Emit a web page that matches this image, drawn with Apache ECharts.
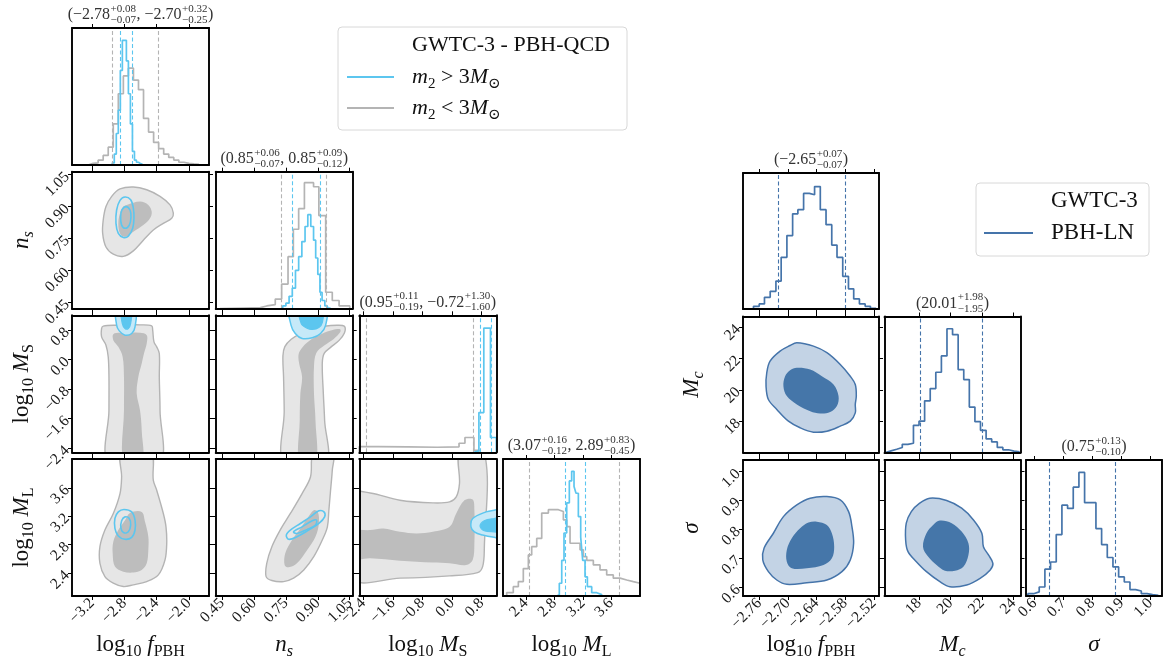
<!DOCTYPE html>
<html><head><meta charset="utf-8">
<script src="https://cdn.jsdelivr.net/npm/echarts@6/dist/echarts.min.js"></script>
<style>html,body{margin:0;padding:0;background:#fff}#c{width:1167px;height:665px}</style>
</head><body><div id="c"></div>
<script>
// ---------------- tick values ----------------
const ticksFpbhL = [-3.2, -2.8, -2.4, -2.0];
const ticksNs = [0.45, 0.60, 0.75, 0.90, 1.05];
const ticksMs = [-2.4, -1.6, -0.8, 0.0, 0.8];
const ticksMl = [2.4, 2.8, 3.2, 3.6];
const ticksFpbhR = [-2.76, -2.70, -2.64, -2.58, -2.52];
const ticksMc = [18, 20, 22, 24];
const ticksSigma = [0.6, 0.7, 0.8, 0.9, 1.0];

// ---------------- 1D histograms (bin edges + heights) ----------------
const fpbhGrayEdges = [-3.25,-3.1875,-3.125,-3.0625,-3.0,-2.9375,-2.875,-2.8125,-2.75,-2.6875,-2.625,-2.5625,-2.5,-2.4375,-2.375,-2.3125,-2.25,-2.1875,-2.125,-2.0625,-2.0,-1.9375,-1.875];
const fpbhGrayCounts = [0.012,0.015,0.035,0.07,0.13,0.3,0.52,0.65,0.707,0.62,0.55,0.34,0.24,0.165,0.12,0.08,0.055,0.036,0.02,0.012,0.008,0.005];
const fpbhCyanEdges = [-2.95,-2.925,-2.9,-2.875,-2.85,-2.825,-2.8,-2.775,-2.75,-2.725,-2.7,-2.675,-2.65,-2.625,-2.6,-2.575];
const fpbhCyanCounts = [0.015,0.08,0.23,0.4,0.69,0.91,0.91,0.76,0.52,0.3,0.1,0.035,0.02,0.01,0.005];
const nsGrayEdges = [0.44,0.55,0.63,0.66,0.70,0.73,0.76,0.785,0.81,0.837,0.88,0.905,0.937,0.968,1.0,1.05];
const nsGrayCounts = [0.005,0.008,0.02,0.03,0.07,0.18,0.38,0.58,0.73,0.92,0.89,0.68,0.12,0.06,0.02];
const nsCyanEdges = [0.735,0.75,0.765,0.78,0.795,0.81,0.825,0.84,0.853,0.867,0.88,0.89,0.90,0.91,0.92,0.933,0.945,0.96];
const nsCyanCounts = [0.02,0.04,0.09,0.15,0.28,0.38,0.49,0.6,0.686,0.6,0.5,0.37,0.25,0.12,0.06,0.02,0.005];
const msGrayEdges = [-2.51,-2.0,-1.2,-0.4,0.19,0.35,0.593,0.727];
const msGrayCounts = [0.042,0.04,0.037,0.04,0.066,0.108,0.015];
const msCyanEdges = [0.593,0.727,0.86,1.04,1.2];
const msCyanCounts = [0.01,0.29,0.907,0.108];
const mlGrayEdges = [2.129,2.222,2.293,2.363,2.434,2.481,2.552,2.622,2.716,2.857,2.927,2.974,3.021,3.162,3.209,3.256,3.349,3.443,3.537,3.63,3.725,3.819,3.912,4.006];
const mlGrayCounts = [0.024,0.068,0.105,0.2,0.3,0.36,0.42,0.605,0.63,0.617,0.556,0.507,0.385,0.337,0.288,0.26,0.227,0.19,0.154,0.13,0.117,0.105,0.093];
const mlCyanEdges = [2.833,2.87,2.904,2.936,2.974,3.011,3.044,3.077,3.105,3.138,3.171,3.199,3.232,3.265,3.326,3.397,3.467];
const mlCyanCounts = [0.01,0.093,0.26,0.46,0.68,0.84,0.91,0.8,0.75,0.58,0.43,0.26,0.14,0.068,0.024,0.01];

const fpbhLnEdges = [-2.772,-2.760,-2.749,-2.737,-2.725,-2.714,-2.702,-2.690,-2.679,-2.667,-2.655,-2.644,-2.632,-2.620,-2.608,-2.597,-2.585,-2.573,-2.562,-2.550,-2.538,-2.527,-2.515];
const fpbhLnCounts = [0.02,0.037,0.086,0.13,0.205,0.38,0.54,0.70,0.73,0.85,0.84,0.90,0.73,0.62,0.47,0.38,0.24,0.148,0.074,0.037,0.02,0.005];
const mcLnEdges = [15.874,16.228,16.582,16.937,17.291,17.645,17.999,18.353,18.708,19.062,19.416,19.770,20.124,20.479,20.833,21.187,21.541,21.895,22.250,22.604,22.958,23.312,23.666,24.021,24.375];
const mcLnCounts = [0.012,0.024,0.037,0.06,0.068,0.2,0.23,0.38,0.47,0.59,0.71,0.91,0.866,0.61,0.536,0.334,0.227,0.163,0.10,0.078,0.037,0.02,0.01,0.005];
const sigLnEdges = [0.5765,0.5961,0.6157,0.6353,0.6549,0.6745,0.6941,0.7137,0.7333,0.7529,0.7725,0.7921,0.8117,0.8313,0.8509,0.8705,0.8901,0.9097,0.9293,0.9489,0.9685,0.9881,1.0077,1.0273];
const sigLnCounts = [0.017,0.03,0.066,0.197,0.25,0.452,0.668,0.644,0.80,0.909,0.686,0.686,0.496,0.378,0.283,0.214,0.14,0.103,0.047,0.037,0.017,0.01,0.005];

// ---------------- quantile lines (16%, 84%) ----------------
const qFpbhGray = [-2.95, -2.38], qFpbhCyan = [-2.85, -2.70];
const qNsGray = [0.73, 0.94], qNsCyan = [0.78, 0.91];
const qMsGray = [-2.32, 0.58], qMsCyan = [0.76, 1.06];
const qMlGray = [2.44, 3.72], qMlCyan = [2.95, 3.23];
const qFpbhLn = [-2.72, -2.58], qMcLn = [18.06, 21.99], qSigLn = [0.65, 0.88];

// ---------------- 2D credible contours (data coordinates) ----------------
const nsF_grayOuter = [[-2.854,0.983],[-2.689,0.992],[-2.523,0.979],[-2.358,0.948],[-2.234,0.908],[-2.193,0.869],[-2.213,0.845],[-2.317,0.821],[-2.441,0.79],[-2.565,0.742],[-2.689,0.692],[-2.813,0.666],[-2.937,0.676],[-3.028,0.71],[-3.069,0.774],[-3.062,0.837],[-3.028,0.90],[-2.957,0.948]];
const nsF_grayInner = [[-2.771,0.908],[-2.606,0.924],[-2.503,0.908],[-2.461,0.876],[-2.482,0.845],[-2.565,0.813],[-2.689,0.782],[-2.792,0.758],[-2.854,0.774],[-2.875,0.821],[-2.854,0.869],[-2.813,0.90]];
const nsF_cyanOuter = [[-2.792,0.945],[-2.722,0.932],[-2.689,0.893],[-2.681,0.845],[-2.697,0.798],[-2.751,0.761],[-2.813,0.755],[-2.875,0.774],[-2.904,0.821],[-2.896,0.884],[-2.854,0.929]];
const nsF_cyanInner = [[-2.78,0.90],[-2.73,0.884],[-2.718,0.85],[-2.739,0.813],[-2.789,0.798],[-2.834,0.813],[-2.846,0.853],[-2.83,0.884]];

const msF_grayOuter = [[-3.062,0.905],[-3.082,0.842],[-3.082,0.615],[-3.028,0.39],[-3.0,0.073],[-2.991,-0.47],[-2.991,-1.372],[-2.991,-2.8],[-2.367,-2.8],[-2.358,-1.372],[-2.367,-0.47],[-2.367,0.165],[-2.399,0.344],[-2.433,0.479],[-2.449,0.796],[-2.461,0.913],[-2.606,0.94],[-2.896,0.93]];
const msF_grayInner = [[-2.854,0.723],[-2.937,0.688],[-2.937,0.525],[-2.875,0.344],[-2.821,0.073],[-2.805,-0.47],[-2.805,-1.372],[-2.805,-2.8],[-2.585,-2.8],[-2.585,-1.914],[-2.606,-1.372],[-2.647,-0.92],[-2.627,-0.47],[-2.585,-0.106],[-2.557,0.165],[-2.523,0.436],[-2.523,0.661],[-2.606,0.723]];
const msF_cyanOuter = [[-2.896,1.35],[-2.896,0.932],[-2.863,0.777],[-2.792,0.661],[-2.709,0.706],[-2.668,0.886],[-2.668,1.35]];
const msF_cyanInner = [[-2.834,1.35],[-2.826,0.978],[-2.792,0.842],[-2.751,0.842],[-2.722,0.978],[-2.718,1.35]];

const msN_grayOuter = [[0.742,-2.8],[0.742,-1.4],[0.739,-0.47],[0.736,0.1],[0.745,0.35],[0.775,0.55],[0.82,0.7],[0.87,0.82],[0.93,0.9],[0.99,0.93],[1.025,0.9],[1.025,0.72],[1.0,0.52],[0.96,0.33],[0.93,0.17],[0.921,-0.1],[0.926,-0.92],[0.932,-1.64],[0.937,-2.8]];
const msN_grayInner = [[0.815,-2.8],[0.815,-1.64],[0.818,-0.92],[0.826,-0.47],[0.812,-0.1],[0.81,0.15],[0.83,0.35],[0.87,0.55],[0.92,0.7],[0.97,0.8],[1.005,0.82],[1.005,0.74],[0.975,0.56],[0.93,0.38],[0.893,0.18],[0.882,-0.2],[0.882,-0.92],[0.889,-1.64],[0.889,-2.8]];
const msN_cyanOuter = [[0.771,1.35],[0.774,0.932],[0.794,0.706],[0.826,0.57],[0.874,0.59],[0.913,0.706],[0.937,0.932],[0.937,1.35]];
const msN_cyanInner = [[0.818,1.35],[0.822,0.978],[0.852,0.842],[0.874,0.815],[0.905,0.87],[0.921,1.0],[0.921,1.35]];

const mlF_grayOuter = [[-2.834,4.1],[-2.834,3.752],[-2.854,3.519],[-2.937,3.239],[-3.041,3.005],[-3.103,2.771],[-3.103,2.538],[-3.041,2.35],[-2.937,2.258],[-2.813,2.21],[-2.689,2.234],[-2.523,2.28],[-2.379,2.374],[-2.296,2.585],[-2.275,2.818],[-2.284,3.051],[-2.317,3.239],[-2.399,3.566],[-2.441,3.706],[-2.474,4.1]];
const mlF_grayInner = [[-2.73,3.247],[-2.585,3.261],[-2.544,3.121],[-2.503,2.911],[-2.503,2.725],[-2.523,2.538],[-2.585,2.444],[-2.689,2.407],[-2.813,2.42],[-2.917,2.491],[-2.945,2.678],[-2.937,2.841],[-2.875,3.005],[-2.792,3.145]];
const mlF_cyanOuter = [[-2.805,3.295],[-2.709,3.261],[-2.668,3.145],[-2.668,3.005],[-2.709,2.903],[-2.792,2.875],[-2.875,2.921],[-2.917,3.029],[-2.917,3.169],[-2.875,3.261]];
const mlF_cyanInner = [[-2.792,3.191],[-2.739,3.169],[-2.722,3.075],[-2.751,2.981],[-2.805,2.967],[-2.842,3.029],[-2.834,3.135]];

const mlN_grayOuter = [[0.881,4.1],[0.8655,3.752],[0.826,3.519],[0.771,3.239],[0.723,3.005],[0.684,2.771],[0.66,2.538],[0.657,2.35],[0.684,2.295],[0.739,2.28],[0.786,2.328],[0.834,2.444],[0.881,2.631],[0.921,2.865],[0.945,3.051],[0.952,3.285],[0.96,3.566],[0.968,3.846],[0.971,4.1]];
const mlN_grayInner = [[0.881,3.285],[0.90,3.262],[0.905,3.098],[0.889,2.911],[0.85,2.725],[0.802,2.538],[0.763,2.481],[0.744,2.514],[0.747,2.678],[0.779,2.865],[0.818,3.028],[0.85,3.168]];
const mlN_cyanOuter = [[0.752,2.935],[0.771,3.005],[0.818,3.098],[0.8655,3.191],[0.905,3.276],[0.929,3.262],[0.932,3.191],[0.905,3.098],[0.857,3.005],[0.802,2.911],[0.763,2.875]];
const mlN_cyanInner = [[0.786,2.981],[0.826,3.051],[0.874,3.136],[0.894,3.145],[0.889,3.075],[0.85,3.015],[0.802,2.958]];

const mlM_grayOuter = [[-2.7,3.52],[-2.215,3.528],[-1.409,3.425],[-0.515,3.388],[-0.066,3.402],[0.114,3.472],[0.202,3.66],[0.22,4.1],[0.873,4.1],[0.873,2.725],[0.828,2.491],[0.693,2.407],[-0.066,2.36],[-1.409,2.328],[-2.7,2.328]];
const mlM_grayInner = [[-2.7,2.981],[-2.215,3.005],[-1.857,3.028],[-1.409,2.981],[-0.96,2.958],[-0.515,2.981],[-0.066,3.051],[0.114,3.239],[0.336,3.425],[0.559,3.435],[0.605,3.285],[0.605,2.818],[0.559,2.585],[0.382,2.514],[-0.066,2.538],[-0.515,2.547],[-1.409,2.575],[-2.215,2.608],[-2.7,2.608]];
const mlM_cyanOuter = [[1.3,3.29],[1.142,3.285],[0.919,3.261],[0.559,3.168],[0.514,3.051],[0.605,2.981],[0.828,2.935],[1.142,2.903],[1.3,2.9]];
const mlM_cyanInner = [[1.3,3.17],[1.142,3.168],[0.873,3.136],[0.758,3.061],[0.873,2.995],[1.142,2.981],[1.3,2.98]];

const mcF_outer = [[-2.6812,23.0],[-2.6463,22.79],[-2.6182,22.37],[-2.5902,21.62],[-2.5692,20.87],[-2.5587,20.34],[-2.5566,19.6],[-2.5587,19.07],[-2.5587,18.53],[-2.5692,18.0],[-2.5902,17.68],[-2.6182,17.36],[-2.6463,17.3],[-2.6743,17.58],[-2.6988,18.0],[-2.7232,18.75],[-2.7408,19.38],[-2.7457,20.23],[-2.7442,21.09],[-2.7373,21.83],[-2.7163,22.47],[-2.6953,22.83]];
const mcF_inner = [[-2.6812,21.41],[-2.6532,21.3],[-2.6287,20.87],[-2.6043,20.34],[-2.5938,19.6],[-2.5972,18.96],[-2.6113,18.58],[-2.6322,18.49],[-2.6532,18.64],[-2.6812,19.07],[-2.7022,19.6],[-2.7093,20.23],[-2.7058,20.87],[-2.6953,21.25]];
const sigF_outer = [[-2.6182,0.9135],[-2.5902,0.902],[-2.5727,0.8616],[-2.5657,0.8097],[-2.5622,0.7522],[-2.5692,0.6945],[-2.5867,0.654],[-2.6182,0.6253],[-2.6602,0.616],[-2.7022,0.6104],[-2.7232,0.6253],[-2.7408,0.654],[-2.7526,0.6945],[-2.7499,0.735],[-2.7303,0.7869],[-2.7093,0.8443],[-2.6812,0.8848],[-2.6532,0.908]];
const sigF_inner = [[-2.6392,0.827],[-2.6182,0.8156],[-2.6078,0.7869],[-2.6029,0.7405],[-2.6078,0.7003],[-2.6253,0.6772],[-2.6602,0.6657],[-2.6918,0.6657],[-2.7022,0.6886],[-2.7022,0.729],[-2.6918,0.7695],[-2.6743,0.8042],[-2.6568,0.8236]];
const sigM_outer = [[18.68,0.908],[19.75,0.9],[20.70,0.8734],[21.45,0.8329],[21.98,0.7869],[22.08,0.7405],[22.40,0.7118],[22.68,0.683],[22.51,0.66],[21.87,0.6311],[21.02,0.608],[19.96,0.602],[19.32,0.6194],[18.47,0.654],[17.83,0.6886],[17.30,0.7232],[17.15,0.7637],[17.19,0.8215],[17.51,0.8616],[18.04,0.8907]];
const sigM_inner = [[19.32,0.8306],[20.07,0.8215],[20.70,0.7925],[21.13,0.7522],[21.13,0.7118],[20.81,0.6713],[20.28,0.6576],[19.64,0.6576],[19.11,0.6772],[18.57,0.7061],[18.25,0.7405],[18.47,0.7869],[18.89,0.8156]];

// ---------------- texts ----------------
const titlesLeft = [
  [{t:'(\u22122.78'},{st:['+0.08','\u22120.07']},{t:', \u22122.70'},{st:['+0.32','\u22120.25']},{t:')'}],
  [{t:'(0.85'},{st:['+0.06','\u22120.07']},{t:', 0.85'},{st:['+0.09','\u22120.12']},{t:')'}],
  [{t:'(0.95'},{st:['+0.11','\u22120.19']},{t:', \u22120.72'},{st:['+1.30','\u22121.60']},{t:')'}],
  [{t:'(3.07'},{st:['+0.16','\u22120.12']},{t:', 2.89'},{st:['+0.83','\u22120.45']},{t:')'}]
];
const titlesRight = [
  [{t:'(\u22122.65'},{st:['+0.07','\u22120.07']},{t:')'}],
  [{t:'(20.01'},{st:['+1.98','\u22121.95']},{t:')'}],
  [{t:'(0.75'},{st:['+0.13','\u22120.10']},{t:')'}]
];
const labFpbh = [{t:'log'},{t:'10',s:'sub'},{t:' '},{t:'f',it:1},{t:'PBH',s:'sub'}];
const labNs = [{t:'n',it:1},{t:'s',it:1,s:'sub'}];
const labMs = [{t:'log'},{t:'10',s:'sub'},{t:' '},{t:'M',it:1},{t:'S',s:'sub'}];
const labMl = [{t:'log'},{t:'10',s:'sub'},{t:' '},{t:'M',it:1},{t:'L',s:'sub'}];
const labMc = [{t:'M',it:1},{t:'c',it:1,s:'sub'}];
const labSig = [{t:'\u03c3',it:1}];
const legLeftTitle = 'GWTC-3 - PBH-QCD';
const legLeftA = [{t:'m',it:1},{t:'2',s:'sub'},{t:' > 3'},{t:'M',it:1},{t:'\u2299',s:'sub'}];
const legLeftB = [{t:'m',it:1},{t:'2',s:'sub'},{t:' < 3'},{t:'M',it:1},{t:'\u2299',s:'sub'}];
const legRightTitle = 'GWTC-3';
const legRightName = 'PBH-LN';

// ---------------- styling ----------------
const FONT = '"Liberation Serif", "DejaVu Serif", serif';
const CYAN = '#5cc6ef', CYANL = '#c6e9f8', GRAY = '#b4b4b4', GRAYL = '#e6e6e6', GRAYD = '#bdbdbd';
const BLUE = '#4574aa', BLUEL = '#c3d3e5', BLUED = '#4576a9';

const cv = document.createElement('canvas').getContext('2d');
function tw(t, size, it) { cv.font = (it ? 'italic ' : '') + size + 'px ' + FONT; return cv.measureText(t).width; }
function txt(t, x, y, size, it, color) {
  return {type:'text', x:x, y:y, z:30, silent:true, style:{text:t, font:(it?'italic ':'') + size + 'px ' + FONT, fill:color,
    textAlign:'left', textVerticalAlign:'middle', align:'left', verticalAlign:'middle'}};
}
function mathGroup(segs, o) {
  const M = o.size, S = o.small || Math.round(M * 0.7), col = o.color || '#111';
  let x = 0; const kids = [];
  segs.forEach(g => {
    if (g.st) {
      const w = Math.max(tw(g.st[0], S, false), tw(g.st[1], S, false));
      kids.push(txt(g.st[0], x + 0.5, -0.38 * M, S, false, col));
      kids.push(txt(g.st[1], x + 0.5, 0.32 * M, S, false, col));
      x += w + 1;
    } else if (g.s === 'sub') {
      kids.push(txt(g.t, x, 0.3 * M, S, g.it, col)); x += tw(g.t, S, g.it);
    } else {
      kids.push(txt(g.t, x, 0, M, g.it, col)); x += tw(g.t, M, g.it);
    }
  });
  const off = o.align === 'center' ? -x / 2 : (o.align === 'right' ? -x : 0);
  kids.forEach(k => { k.x += off; });
  return {type:'group', x:o.x, y:o.y, z:30, rotation:o.rotation || 0, children:kids, silent:true};
}
function stepPts(edges, counts) {
  const out = [[edges[0], 0]];
  for (let i = 0; i < counts.length; i++) { out.push([edges[i], counts[i]]); out.push([edges[i + 1], counts[i]]); }
  out.push([edges[edges.length - 1], 0]);
  return out;
}
function fmtN(d) { return v => (v < 0 ? '\u2212' : '') + Math.abs(v).toFixed(d); }

// ---------------- parameters ----------------
const PL = [
  {min:-3.449, max:-1.751, ticks:ticksFpbhL, d:1, lab:labFpbh},
  {min:0.42, max:1.064, ticks:ticksNs, d:2, lab:labNs},
  {min:-2.508, max:1.198, ticks:ticksMs, d:1, lab:labMs},
  {min:2.077, max:4.006, ticks:ticksMl, d:1, lab:labMl}
];
const PR = [
  {min:-2.794, max:-2.509, ticks:ticksFpbhR, d:2, lab:labFpbh},
  {min:15.81, max:24.43, ymin:16.0, ymax:24.68, ticks:ticksMc, d:0, lab:labMc},
  {min:0.57, max:1.04, ticks:ticksSigma, d:1, lab:labSig}
];
const L_LEFT = [72, 215.7, 359.3, 503], L_TOP = [28, 171.7, 315.3, 459], L_SIZE = 137;
const R_LEFT = [743, 884.5, 1026], R_TOP = [173, 316.5, 460], R_SIZE = 136;

function H(e, c, color, q) { return {e, c, color, q}; }
function P(pts, fill, stroke, lw) { return {pts, fill, stroke, lw}; }
const gO = p => P(p, GRAYL, GRAY, 1.4), gI = p => P(p, GRAYD, null, 0);
const cL = p => P(p, null, CYAN, 1.6), cFO = p => P(p, CYANL, CYAN, 1.5), cFI = p => P(p, CYAN, CYAN, 1.2);
const bO = p => P(p, BLUEL, BLUE, 1.5), bI = p => P(p, BLUED, null, 0);

const panels = [
  // left corner
  {l:L_LEFT[0], t:L_TOP[0], s:L_SIZE, xp:PL[0], diag:true, hists:[H(fpbhGrayEdges,fpbhGrayCounts,GRAY,qFpbhGray), H(fpbhCyanEdges,fpbhCyanCounts,CYAN,qFpbhCyan)]},
  {l:L_LEFT[0], t:L_TOP[1], s:L_SIZE, xp:PL[0], yp:PL[1], ylab:true, polys:[gO(nsF_grayOuter), gI(nsF_grayInner), cL(nsF_cyanOuter), cL(nsF_cyanInner)]},
  {l:L_LEFT[1], t:L_TOP[1], s:L_SIZE, xp:PL[1], diag:true, hists:[H(nsGrayEdges,nsGrayCounts,GRAY,qNsGray), H(nsCyanEdges,nsCyanCounts,CYAN,qNsCyan)]},
  {l:L_LEFT[0], t:L_TOP[2], s:L_SIZE, xp:PL[0], yp:PL[2], ylab:true, polys:[gO(msF_grayOuter), gI(msF_grayInner), cFO(msF_cyanOuter), cFI(msF_cyanInner)]},
  {l:L_LEFT[1], t:L_TOP[2], s:L_SIZE, xp:PL[1], yp:PL[2], polys:[gO(msN_grayOuter), gI(msN_grayInner), cFO(msN_cyanOuter), cFI(msN_cyanInner)]},
  {l:L_LEFT[2], t:L_TOP[2], s:L_SIZE, xp:PL[2], diag:true, hists:[H(msGrayEdges,msGrayCounts,GRAY,qMsGray), H(msCyanEdges,msCyanCounts,CYAN,qMsCyan)]},
  {l:L_LEFT[0], t:L_TOP[3], s:L_SIZE, xp:PL[0], yp:PL[3], ylab:true, xlab:true, polys:[gO(mlF_grayOuter), gI(mlF_grayInner), cL(mlF_cyanOuter), cL(mlF_cyanInner)]},
  {l:L_LEFT[1], t:L_TOP[3], s:L_SIZE, xp:PL[1], yp:PL[3], xlab:true, polys:[gO(mlN_grayOuter), gI(mlN_grayInner), cL(mlN_cyanOuter), cL(mlN_cyanInner)]},
  {l:L_LEFT[2], t:L_TOP[3], s:L_SIZE, xp:PL[2], yp:PL[3], xlab:true, polys:[gO(mlM_grayOuter), gI(mlM_grayInner), cFO(mlM_cyanOuter), cFI(mlM_cyanInner)]},
  {l:L_LEFT[3], t:L_TOP[3], s:L_SIZE, xp:PL[3], diag:true, xlab:true, hists:[H(mlGrayEdges,mlGrayCounts,GRAY,qMlGray), H(mlCyanEdges,mlCyanCounts,CYAN,qMlCyan)]},
  // right corner
  {l:R_LEFT[0], t:R_TOP[0], s:R_SIZE, xp:PR[0], diag:true, hists:[H(fpbhLnEdges,fpbhLnCounts,BLUE,qFpbhLn)]},
  {l:R_LEFT[0], t:R_TOP[1], s:R_SIZE, xp:PR[0], yp:PR[1], ylab:true, polys:[bO(mcF_outer), bI(mcF_inner)]},
  {l:R_LEFT[1], t:R_TOP[1], s:R_SIZE, xp:PR[1], diag:true, hists:[H(mcLnEdges,mcLnCounts,BLUE,qMcLn)]},
  {l:R_LEFT[0], t:R_TOP[2], s:R_SIZE, xp:PR[0], yp:PR[2], ylab:true, xlab:true, polys:[bO(sigF_outer), bI(sigF_inner)]},
  {l:R_LEFT[1], t:R_TOP[2], s:R_SIZE, xp:PR[1], yp:PR[2], xlab:true, polys:[bO(sigM_outer), bI(sigM_inner)]},
  {l:R_LEFT[2], t:R_TOP[2], s:R_SIZE, xp:PR[2], diag:true, xlab:true, hists:[H(sigLnEdges,sigLnCounts,BLUE,qSigLn)]}
];

const grid = [], xAxis = [], yAxis = [], series = [];
const AX = {color:'#000', width:1.9};
function axisBase(gi, pos, min, max, ticks, showTick, showLab, d) {
  return {type:'value', gridIndex:gi, position:pos, min:min, max:max, z:10,
    axisLine:{show:true, onZero:false, lineStyle:AX},
    axisTick:{show:showTick, inside:false, length:4, customValues:ticks, lineStyle:{color:'#000', width:1}},
    axisLabel:{show:showLab, customValues:ticks, rotate:45, margin:5, formatter:fmtN(d), fontFamily:FONT, fontSize:15.5, color:'#1a1a1a'},
    splitLine:{show:false}, minorTick:{show:false}};
}
panels.forEach((p, gi) => {
  grid.push({left:p.l, top:p.t, width:p.s, height:p.s, containLabel:false});
  const xp = p.xp;
  xAxis.push(axisBase(gi, 'bottom', xp.min, xp.max, xp.ticks, true, !!p.xlab, xp.d));
  xAxis.push(axisBase(gi, 'top', xp.min, xp.max, xp.ticks, true, false, xp.d));
  if (p.diag) {
    yAxis.push(axisBase(gi, 'left', 0, 1, [0], false, false, 0));
    yAxis.push(axisBase(gi, 'right', 0, 1, [0], false, false, 0));
  } else {
    const yp = p.yp, ymin = yp.ymin !== undefined ? yp.ymin : yp.min, ymax = yp.ymax !== undefined ? yp.ymax : yp.max;
    yAxis.push(axisBase(gi, 'left', ymin, ymax, yp.ticks, true, !!p.ylab, yp.d));
    yAxis.push(axisBase(gi, 'right', ymin, ymax, yp.ticks, true, false, yp.d));
  }
  (p.polys || []).forEach(pl => {
    series.push({type:'custom', xAxisIndex:2*gi, yAxisIndex:2*gi, clip:true, silent:true, z:2,
      data:[pl.pts[0]],
      renderItem:(params, api) => ({type:'polygon',
        shape:{points:pl.pts.map(pt => api.coord(pt)), smooth:0.35},
        style:{fill:pl.fill || 'none', stroke:pl.stroke || null, lineWidth:pl.lw}})});
  });
  (p.hists || []).forEach(h => {
    series.push({type:'line', xAxisIndex:2*gi, yAxisIndex:2*gi, data:stepPts(h.e, h.c), showSymbol:false, symbol:'none',
      silent:true, z:3, clip:true, lineStyle:{color:h.color, width:1.7},
      markLine:{silent:true, symbol:['none','none'], label:{show:false}, animation:false,
        lineStyle:{color:h.color, width:1.1, type:[4,2.5]}, data:h.q.map(v => ({xAxis:v}))}});
  });
});

// ---------------- graphic texts ----------------
const graphic = [];
const TITLE_COL = '#333';
[0, 2, 5, 9].forEach((pi, k) => {
  const p = panels[pi];
  graphic.push(mathGroup(titlesLeft[k], {x:p.l + p.s/2, y:p.t - 13, size:16, small:11, align:'center', color:TITLE_COL}));
});
[10, 12, 15].forEach((pi, k) => {
  const p = panels[pi];
  graphic.push(mathGroup(titlesRight[k], {x:p.l + p.s/2, y:p.t - 13, size:16, small:11, align:'center', color:TITLE_COL}));
});
// x labels
[6, 7, 8, 9].forEach(pi => { const p = panels[pi]; graphic.push(mathGroup(p.xp.lab, {x:p.l + p.s/2, y:645, size:23, small:16, align:'center'})); });
[13, 14, 15].forEach(pi => { const p = panels[pi]; graphic.push(mathGroup(p.xp.lab, {x:p.l + p.s/2, y:645, size:23, small:16, align:'center'})); });
// y labels
[1, 3, 6].forEach(pi => { const p = panels[pi]; graphic.push(mathGroup(p.yp.lab, {x:p.l - 50, y:p.t + p.s/2, size:23, small:16, align:'center', rotation:Math.PI/2})); });
[11, 13].forEach(pi => { const p = panels[pi]; graphic.push(mathGroup(p.yp.lab, {x:p.l - 51, y:p.t + p.s/2, size:23, small:16, align:'center', rotation:Math.PI/2})); });
// legends
graphic.push({type:'rect', shape:{x:338, y:27, width:289, height:103, r:4}, style:{fill:'rgba(255,255,255,0.85)', stroke:'#d8d8d8', lineWidth:1}, z:20});
graphic.push(txt(legLeftTitle, 412, 45, 22, false, '#111'));
graphic.push({type:'line', shape:{x1:347, y1:77, x2:394, y2:77}, style:{stroke:CYAN, lineWidth:2}, z:21});
graphic.push({type:'line', shape:{x1:347, y1:108, x2:394, y2:108}, style:{stroke:GRAY, lineWidth:2}, z:21});
graphic.push(mathGroup(legLeftA, {x:412, y:77, size:22, small:15, align:'left'}));
graphic.push(mathGroup(legLeftB, {x:412, y:108, size:22, small:15, align:'left'}));
graphic.push({type:'rect', shape:{x:976, y:183, width:173, height:73, r:4}, style:{fill:'rgba(255,255,255,0.85)', stroke:'#d8d8d8', lineWidth:1}, z:20});
graphic.push(txt(legRightTitle, 1051, 201, 23, false, '#111'));
graphic.push({type:'line', shape:{x1:984, y1:233, x2:1033, y2:233}, style:{stroke:BLUE, lineWidth:2}, z:21});
graphic.push(txt(legRightName, 1051, 233, 23, false, '#111'));

const chart = echarts.init(document.getElementById('c'), null, {renderer:'canvas'});
chart.setOption({animation:false, backgroundColor:'#fff', grid, xAxis, yAxis, series, graphic});
</script>
</body></html>
